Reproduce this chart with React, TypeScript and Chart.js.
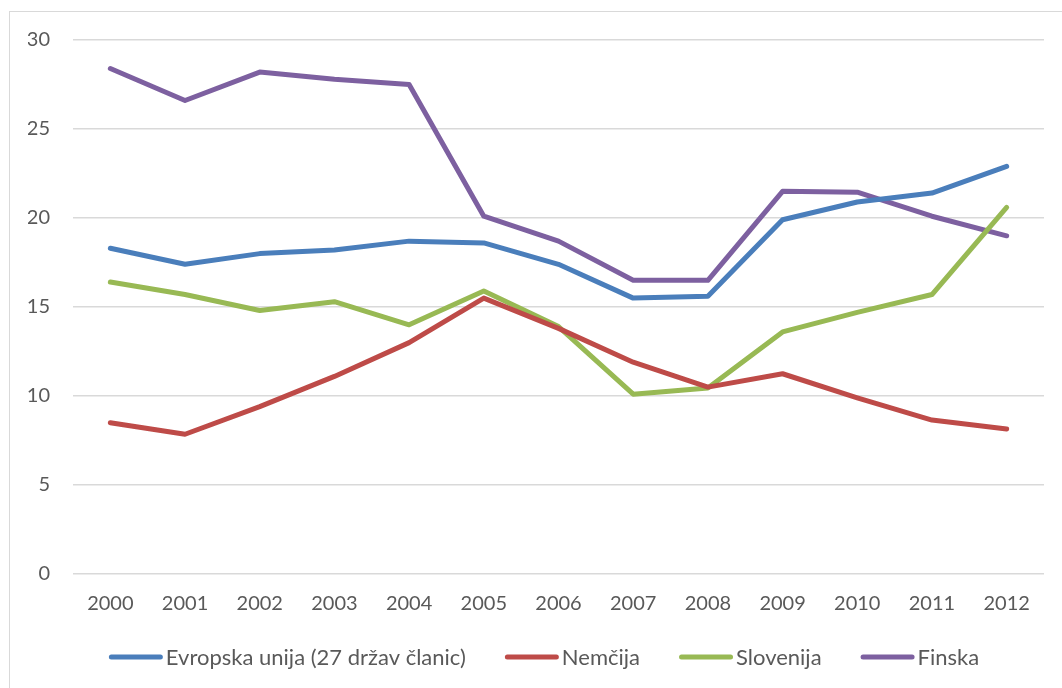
import React, { useEffect, useRef } from "react";
import { Chart, registerables } from "chart.js";

Chart.register(...registerables);

const years = ["2000", "2001", "2002", "2003", "2004", "2005", "2006", "2007", "2008", "2009", "2010", "2011", "2012"];
const euValues = [18.3, 17.4, 18.0, 18.2, 18.7, 18.6, 17.4, 15.5, 15.6, 19.9, 20.9, 21.4, 22.9];
const germanyValues = [8.5, 7.85, 9.4, 11.1, 13.0, 15.5, 13.8, 11.9, 10.5, 11.25, 9.9, 8.65, 8.15];
const sloveniaValues = [16.4, 15.7, 14.8, 15.3, 14.0, 15.9, 13.9, 10.1, 10.45, 13.6, 14.7, 15.7, 20.6];
const finlandValues = [28.4, 26.6, 28.2, 27.8, 27.5, 20.1, 18.7, 16.5, 16.5, 21.5, 21.45, 20.1, 19.0];
const seriesNames = ["Evropska unija (27 držav članic)", "Nemčija", "Slovenija", "Finska"];
const seriesColors = ["#4A7EBB", "#BE4B48", "#98B954", "#7D60A0"];

const FONT = "Lato, 'Open Sans', sans-serif";
const TEXT_COLOR = "#595959";

// Legend drawn on the chart canvas from the chart's own datasets
const bottomLegend = {
  id: "bottomLegend",
  afterDraw(chart: any) {
    const ctx = chart.ctx as CanvasRenderingContext2D;
    ctx.save();
    ctx.font = `22px ${FONT}`;
    const lineW = 54;
    const gapText = 3;
    const gapItem = 39;
    const items = chart.data.datasets.map((ds: any) => ({
      text: ds.label as string,
      color: ds.borderColor as string,
      w: ctx.measureText(ds.label).width,
    }));
    const total =
      items.reduce((a: number, it: any) => a + lineW + gapText + it.w, 0) + gapItem * (items.length - 1);
    let x = 534 - total / 2;
    const y = 645;
    ctx.textBaseline = "middle";
    ctx.textAlign = "left";
    for (const it of items) {
      ctx.strokeStyle = it.color;
      ctx.lineWidth = 5;
      ctx.lineCap = "round";
      ctx.beginPath();
      ctx.moveTo(x + 2.5, y);
      ctx.lineTo(x + lineW - 2.5, y);
      ctx.stroke();
      ctx.fillStyle = TEXT_COLOR;
      ctx.fillText(it.text, x + lineW + gapText, y + 1);
      x += lineW + gapText + it.w + gapItem;
    }
    ctx.restore();
  },
};

export default function App() {
  const ref = useRef<HTMLCanvasElement | null>(null);
  useEffect(() => {
    if (!ref.current) return;
    const values = [euValues, germanyValues, sloveniaValues, finlandValues];
    const chart = new Chart(ref.current, {
      type: "line",
      data: {
        labels: years,
        datasets: seriesNames.map((name, i) => ({
          label: name,
          data: values[i],
          borderColor: seriesColors[i],
          backgroundColor: seriesColors[i],
          borderWidth: 5,
          pointRadius: 0,
          pointHoverRadius: 0,
          tension: 0,
          borderJoinStyle: "round" as const,
          borderCapStyle: "round" as const,
        })),
      },
      plugins: [bottomLegend],
      options: {
        responsive: false,
        animation: false,
        layout: { padding: { left: 18, right: 18, top: 28, bottom: 54 } },
        plugins: {
          tooltip: { enabled: false },
          legend: { display: false },
        },
        scales: {
          x: {
            offset: true,
            grid: { display: false, drawTicks: false },
            border: { display: false },
            ticks: { color: TEXT_COLOR, font: { family: FONT, size: 20 }, padding: 18, maxRotation: 0 },
          },
          y: {
            min: 0,
            max: 30,
            grid: { color: "#D9D9D9", lineWidth: 1.5, drawTicks: false },
            border: { display: false },
            ticks: { stepSize: 5, color: TEXT_COLOR, font: { family: FONT, size: 20 }, padding: 23 },
            afterFit: (s: any) => {
              s.width = 45;
              s.paddingTop = 0;
              s.paddingBottom = 0;
            },
          },
        },
      },
    });
    return () => chart.destroy();
  }, []);
  return (
    <div style={{ position: "fixed", left: 0, top: 0, width: 1062, height: 688, overflow: "hidden", background: "#fff" }}>
      <div
        style={{
          position: "absolute",
          left: 9,
          top: 11,
          width: 1100,
          height: 720,
          border: "1.5px solid #D9D9D9",
          boxSizing: "border-box",
        }}
      />
      <canvas ref={ref} width={1052} height={676} style={{ position: "absolute", left: 10, top: 12 }} />
    </div>
  );
}
